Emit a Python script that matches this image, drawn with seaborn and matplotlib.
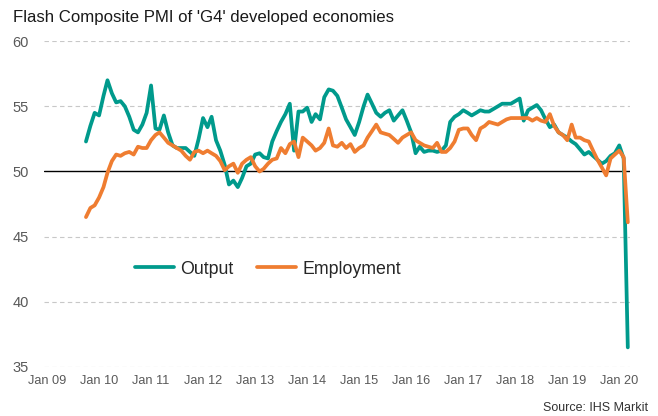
import pandas as pd
import seaborn as sns
import matplotlib.pyplot as plt
import matplotlib.dates as mdates

# Monthly flash composite PMI, Oct 2009 - Mar 2020
start_month = '2009-10-01'

output = [
    52.3, 53.5, 54.5, 54.3, 55.8, 57.0, 56.0, 55.3, 55.4, 55.0, 54.2, 53.2,
    53.0, 53.6, 54.5, 56.6, 53.3, 53.2, 54.3, 53.0, 52.0, 51.8, 51.8, 51.8,
    51.5, 51.2, 52.5, 54.1, 53.4, 54.2, 52.4, 51.6, 50.5, 49.0, 49.3, 48.8,
    49.5, 50.4, 50.6, 51.3, 51.4, 51.1, 51.0, 52.3, 53.1, 53.8, 54.4, 55.2,
    51.6, 54.6, 54.6, 54.9, 53.8, 54.4, 54.0, 55.7, 56.3, 56.2, 55.8, 54.9,
    54.0, 53.4, 52.8, 53.8, 55.0, 55.9, 55.2, 54.5, 54.2, 54.5, 54.7, 53.9,
    54.3, 54.7, 53.9, 53.0, 51.4, 51.9, 51.5, 51.6, 51.6, 51.5, 51.6, 52.0,
    53.8, 54.2, 54.4, 54.7, 54.5, 54.3, 54.5, 54.7, 54.6, 54.6, 54.8, 55.0,
    55.2, 55.2, 55.2, 55.4, 55.6, 53.9, 54.7, 54.9, 55.1, 54.7, 54.0, 53.4,
    53.6, 53.0, 52.8, 52.6, 52.3, 52.1, 51.7, 51.3, 51.5, 51.2, 50.9, 50.6,
    50.8, 51.2, 51.4, 52.0, 51.0, 36.5,
]

employment = [
    46.5, 47.2, 47.4, 48.0, 48.8, 49.9, 50.8, 51.3, 51.2, 51.4, 51.5, 51.3,
    51.9, 51.8, 51.8, 52.4, 52.8, 53.0, 52.6, 52.2, 52.0, 51.8, 51.6, 51.2,
    50.9, 51.5, 51.6, 51.4, 51.6, 51.4, 51.2, 50.8, 50.1, 50.4, 50.6, 49.9,
    50.6, 50.9, 51.1, 50.4, 50.0, 50.2, 50.6, 50.9, 51.0, 51.8, 51.4, 52.1,
    52.3, 51.1, 52.6, 52.3, 52.0, 51.6, 51.8, 52.2, 53.3, 52.0, 51.9, 52.2,
    51.8, 52.1, 51.5, 51.8, 52.0, 52.6, 53.1, 53.6, 53.0, 52.9, 52.8, 52.5,
    52.2, 52.6, 52.8, 53.0, 52.4, 52.2, 52.0, 51.9, 51.8, 52.2, 51.5, 51.5,
    51.8, 52.3, 53.2, 53.3, 53.3, 52.8, 52.4, 53.3, 53.5, 53.8, 53.7, 53.6,
    53.8, 54.0, 54.1, 54.1, 54.1, 54.1, 54.1, 53.9, 54.1, 53.9, 53.8, 54.4,
    53.5, 53.0, 52.8, 52.4, 53.6, 52.6, 52.6, 52.4, 52.3, 51.6, 50.9, 50.3,
    49.7, 51.0, 51.3, 51.6, 51.1, 46.1,
]

series_names = ['Output', 'Employment']
series_colors = ['#009a8c', '#ef7d31']
y_ticks = [35, 40, 45, 50, 55, 60]

dates = pd.date_range(start_month, periods=len(output), freq='MS')
df = pd.concat([
    pd.DataFrame({'date': dates, 'value': output, 'series': 'Output'}),
    pd.DataFrame({'date': dates, 'value': employment, 'series': 'Employment'}),
])

sns.set_theme(style='white')
plt.rcParams['font.family'] = ['Liberation Sans', 'DejaVu Sans']

fig = plt.figure(figsize=(6.58, 4.16), dpi=100)
ax = fig.add_axes([0.067, 0.118, 0.891, 0.783])

# gridlines first so the lines sit on top
for y in y_ticks:
    if y == 50:
        ax.axhline(y, color='black', lw=1.0, zorder=1)
    else:
        ax.axhline(y, color='#c8c8c8', lw=0.8, ls=(0, (4, 3)), zorder=1)

sns.lineplot(data=df, x='date', y='value', hue='series', hue_order=series_names,
             palette=series_colors, linewidth=2.7, ax=ax, zorder=3)

ax.set_ylim(35, 60)
ax.set_yticks(y_ticks)
ax.set_xlim(pd.Timestamp('2008-12-11'), pd.Timestamp('2020-03-19'))
ax.xaxis.set_major_locator(mdates.YearLocator(1, month=1))
ax.xaxis.set_major_formatter(mdates.DateFormatter('Jan %y'))
ax.set_xlabel('')
ax.set_ylabel('')
sns.despine(ax=ax, left=True, bottom=True)
ax.tick_params(axis='y', length=0, pad=11, labelsize=10.5, labelcolor='#595959')
ax.tick_params(axis='x', length=0, pad=6, labelsize=9.2, labelcolor='#595959')

ax.legend(loc='center', bbox_to_anchor=(0.382, 0.30), ncol=2, frameon=False,
          fontsize=12.8, handlelength=2.2, handletextpad=0.35, columnspacing=1.3)

fig.text(0.02, 0.957, "Flash Composite PMI of 'G4' developed economies",
         fontsize=12.1, color='#1a1a1a', va='center', ha='left')
fig.text(0.985, 0.004, 'Source: IHS Markit', fontsize=9, color='#333333',
         ha='right', va='bottom')

plt.savefig('out.png', dpi=100)
plt.close()
